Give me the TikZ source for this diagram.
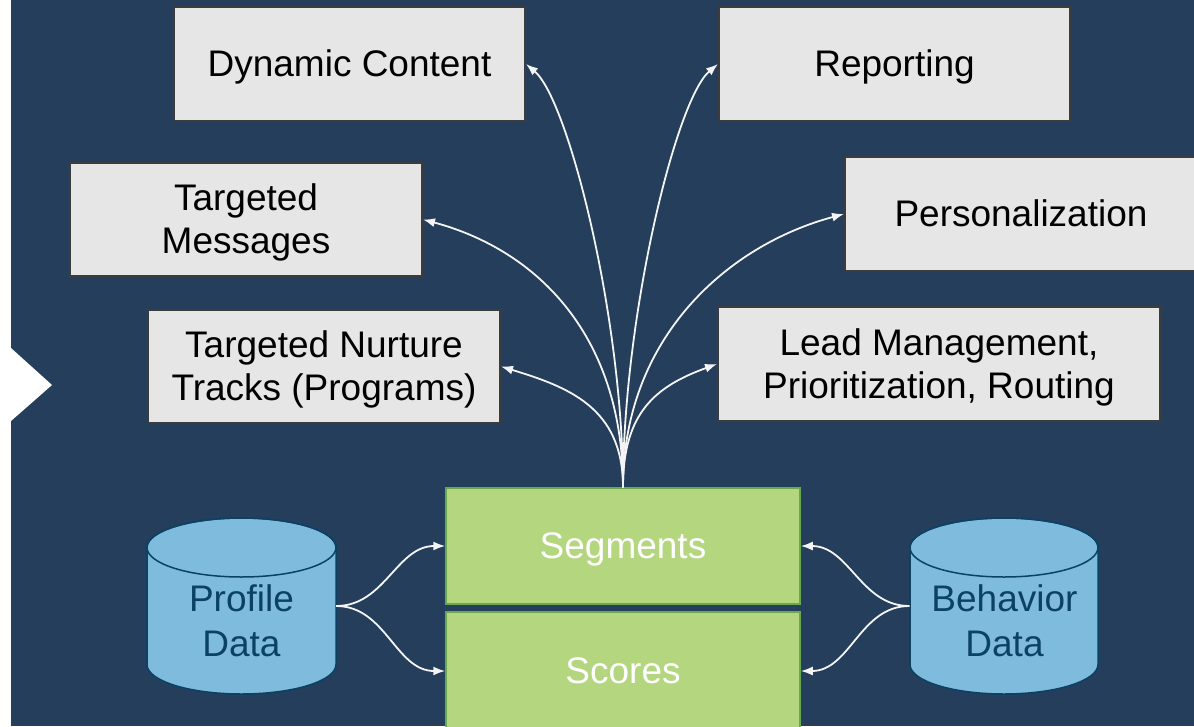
\documentclass[tikz,border=0pt]{standalone}
\usepackage{fontspec}
\setmainfont{Liberation Sans}
\usetikzlibrary{arrows.meta}
\definecolor{bgnavy}{HTML}{243E5C}
\definecolor{boxgray}{HTML}{E6E6E6}
\definecolor{boxline}{HTML}{3C3C3C}
\definecolor{greenfill}{HTML}{B3D67E}
\definecolor{greenline}{HTML}{6AA84F}
\definecolor{cylfill}{HTML}{7FBBDC}
\definecolor{cylline}{HTML}{0B4264}
\definecolor{cyltext}{HTML}{0C4166}
\definecolor{arrowwhite}{HTML}{F4F4F4}
\newcommand\lnstrut{\rule[-7.8pt]{0pt}{41.3pt}}
\begin{document}
\begin{tikzpicture}[x=1pt,y=-1pt,
  every node/.style={font=\fontsize{37pt}{43pt}\selectfont, align=center, inner sep=0pt},
  graybox/.style={draw=boxline, line width=2pt, fill=boxgray, text=black, minimum height=114pt},
  greenbox/.style={draw=greenline, line width=1.5pt, fill=greenfill, text=white, minimum width=354pt, minimum height=116pt},
  cylbody/.style={minimum width=189pt, minimum height=176pt},
  cyllabel/.style={text=cyltext, font=\fontsize{37pt}{45pt}\selectfont},
  conn/.style={draw=arrowwhite, line width=1.8pt, -{Latex[length=12pt,width=9pt]}}
]
\useasboundingbox (0,0) rectangle (1194,726);
\clip (0,0) rectangle (1194,726);
\fill[white] (0,0) rectangle (1194,726);
\fill[bgnavy] (11,0) rectangle (1194,726);
\fill[white] (11,348) -- (52,385) -- (11,421) -- cycle;

% top boxes
\node[graybox, minimum width=351pt] (dyn) at (349.5,64) {\lnstrut Dynamic Content};
\node[graybox, minimum width=351pt] (rep) at (894.5,64) {\lnstrut Reporting};
\node[graybox, minimum width=352pt, minimum height=113pt] (msg) at (246,219.5) {\lnstrut Targeted\\\lnstrut Messages};
\node[graybox, minimum width=352pt] (pers) at (1021,214) {\lnstrut Personalization};
\node[graybox, minimum width=352pt, minimum height=113pt] (nur) at (324,366.5) {\lnstrut Targeted Nurture\\\lnstrut Tracks (Programs)};
\node[graybox, minimum width=442pt] (lead) at (939,364) {\lnstrut Lead Management,\\\lnstrut Prioritization, Routing};

% green boxes
\node[greenbox] (seg) at (623,546) {\lnstrut Segments};
\node[greenbox, minimum height=118pt] (sco) at (623,671) {\lnstrut Scores};

% cylinders
\node[cylbody] (prof) at (241.5,606) {};
\node[cylbody] (beh) at (1004,606) {};
\filldraw[fill=cylfill, draw=cylline, line width=1.5pt]
  (147,547.5) -- (147,664.5) arc[start angle=180, end angle=360, x radius=94.5pt, y radius=29.5pt]
  -- (336,547.5) arc[start angle=0, end angle=180, x radius=94.5pt, y radius=29.5pt] -- cycle;
\draw[cylline, line width=1.5pt] (241.5,547.5) ellipse [x radius=94.5pt, y radius=29.5pt];
\filldraw[fill=cylfill, draw=cylline, line width=1.5pt]
  (910,547.5) -- (910,664.5) arc[start angle=180, end angle=360, x radius=94pt, y radius=29.5pt]
  -- (1098,547.5) arc[start angle=0, end angle=180, x radius=94pt, y radius=29.5pt] -- cycle;
\draw[cylline, line width=1.5pt] (1004,547.5) ellipse [x radius=94pt, y radius=29.5pt];
\node[cyllabel] (proft) at (241.5,621.5) {\lnstrut Profile\\\lnstrut Data};
\node[cyllabel] (beht) at (1004.5,621.5) {\lnstrut Behavior\\\lnstrut Data};

% connectors from cylinders
\draw[conn] (prof.east) to[out=0, in=180] (seg.west);
\draw[conn] (prof.east) to[out=0, in=180] (sco.west);
\draw[conn] (beh.west) to[out=180, in=0] (seg.east);
\draw[conn] (beh.west) to[out=180, in=0] (sco.east);

% fan from segments
\draw[conn] (seg.north) to[out=90, in=-40, out distance=170pt, in distance=55pt] (dyn.east);
\draw[conn] (seg.north) to[out=90, in=-140, out distance=170pt, in distance=55pt] (rep.west);
\draw[conn] (seg.north) to[out=90, in=-15, out distance=150pt, in distance=120pt] (msg.east);
\draw[conn] (seg.north) to[out=90, in=-165, out distance=150pt, in distance=120pt] (pers.west);
\draw[conn] (seg.north) to[out=90, in=-17, out distance=80pt, in distance=70pt] (nur.east);
\draw[conn] (seg.north) to[out=90, in=-160, out distance=75pt, in distance=65pt] (lead.west);
\end{tikzpicture}
\end{document}
